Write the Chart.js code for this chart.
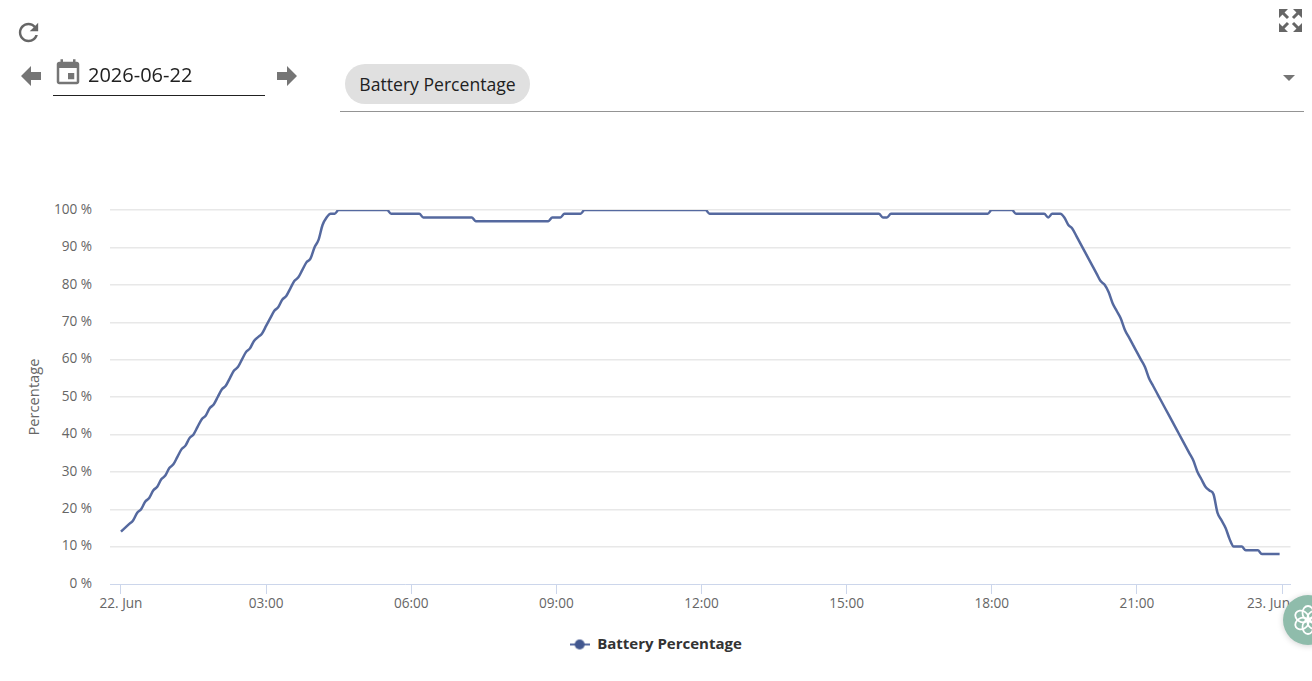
<!DOCTYPE html>
<html>
<head>
<meta charset="utf-8">
<title>Battery Percentage</title>
<script src="https://cdn.jsdelivr.net/npm/chart.js@4"></script>
<style>
html,body{margin:0;padding:0;background:#fff;width:1312px;height:681px;overflow:hidden;font-family:"Open Sans",sans-serif}
#chart{position:absolute;left:0;top:0}
.abs{position:absolute}
#date{left:88px;top:61px;font-size:20px;line-height:28px;color:#212121}
#dateline{left:53px;top:95px;width:212px;height:1px;background:#212121}
#chip{left:345px;top:64px;width:185px;height:40px;border-radius:20px;background:#e0e0e0;color:#212121;font-size:17.6px;line-height:41px;text-align:center}
#selline{left:340px;top:111px;width:964px;height:1px;background:#949494}
#chat{left:1283px;top:595px;width:50px;height:50px;border-radius:25px;background:#8fbcab;box-shadow:0 1px 6px rgba(0,0,0,.18)}
</style>
</head>
<body>
<canvas id="chart" width="1312" height="681"></canvas>

<svg class="abs" style="left:14px;top:18px" width="29" height="29" viewBox="0 0 24 24"><path fill="#666" d="M17.65 6.35C16.2 4.9 14.21 4 12 4c-4.42 0-7.99 3.58-7.99 8s3.57 8 7.99 8c3.73 0 6.84-2.55 7.73-6h-2.08c-.82 2.33-3.04 4-5.65 4-3.31 0-6-2.69-6-6s2.69-6 6-6c1.66 0 3.14.69 4.22 1.78L13 11h7V4l-2.35 2.35z"/></svg>
<svg class="abs" style="left:21px;top:66px" width="20" height="20" viewBox="0 0 20 20"><path fill="#757575" d="M0 10 L10 0 V6 H20 V14 H10 V20 Z"/></svg>
<svg class="abs" style="left:277px;top:66px" width="20" height="20" viewBox="0 0 20 20"><path fill="#757575" d="M20 10 L10 0 V6 H0 V14 H10 V20 Z"/></svg>
<svg class="abs" style="left:53px;top:58px" width="30" height="30" viewBox="0 0 24 24"><path fill="#757575" d="M17 12h-5v5h5v-5zM16 1v2H8V1H6v2H5c-1.11 0-1.99.9-1.99 2L3 19c0 1.1.89 2 2 2h14c1.1 0 2-.9 2-2V5c0-1.1-.9-2-2-2h-1V1h-2zm3 18H5V8h14v11z"/></svg>
<div class="abs" id="date">2026-06-22</div>
<div class="abs" id="dateline"></div>
<div class="abs" id="chip">Battery Percentage</div>
<div class="abs" id="selline"></div>
<svg class="abs" style="left:1283px;top:75px" width="12" height="6" viewBox="0 0 12 6"><path fill="#757575" d="M0 0H12L6 6Z"/></svg>
<svg class="abs" style="left:1279px;top:9px" width="23" height="23" viewBox="0 0 23 23">
  <g fill="#666" stroke="#666">
    <path stroke="none" d="M0 0H9L0 9Z M23 0V9L14 0Z M0 23V14L9 23Z M23 23H14L23 14Z"/>
    <path fill="none" stroke-width="3" d="M3 3L9 9 M20 3L14 9 M3 20L9 14 M20 20L14 14"/>
  </g>
</svg>
<div class="abs" id="chat">
  <svg class="abs" style="left:9px;top:9px" width="32" height="32" viewBox="0 0 32 32">
    <g fill="none" stroke="#fff" stroke-width="1.8">
      <ellipse cx="16" cy="9" rx="5.5" ry="7"/>
      <ellipse cx="16" cy="9" rx="5.5" ry="7" transform="rotate(60 16 16)"/>
      <ellipse cx="16" cy="9" rx="5.5" ry="7" transform="rotate(120 16 16)"/>
      <ellipse cx="16" cy="9" rx="5.5" ry="7" transform="rotate(180 16 16)"/>
      <ellipse cx="16" cy="9" rx="5.5" ry="7" transform="rotate(240 16 16)"/>
      <ellipse cx="16" cy="9" rx="5.5" ry="7" transform="rotate(300 16 16)"/>
    </g>
  </svg>
</div>

<script>
const seriesName = "Battery Percentage";
const yTitle = "Percentage";

const minutes = [
0,5,10,15,20,25,30,35,40,45,50,55,60,65,70,75,80,85,90,95,100,105,110,115,120,125,130,135,140,145,150,155,160,165,170,175,
180,185,190,195,200,205,210,215,220,225,230,235,240,245,250,255,260,265,270,275,280,285,290,295,300,305,310,315,320,325,330,335,340,345,350,355,
360,365,370,375,380,385,390,395,400,405,410,415,420,425,430,435,440,445,450,455,460,465,470,475,480,485,490,495,500,505,510,515,520,525,530,535,
540,545,550,555,560,565,570,575,580,585,590,595,600,605,610,615,620,625,630,635,640,645,650,655,660,665,670,675,680,685,690,695,700,705,710,715,
720,725,730,735,740,745,750,755,760,765,770,775,780,785,790,795,800,805,810,815,820,825,830,835,840,845,850,855,860,865,870,875,880,885,890,895,
900,905,910,915,920,925,930,935,940,945,950,955,960,965,970,975,980,985,990,995,1000,1005,1010,1015,1020,1025,1030,1035,1040,1045,1050,1055,1060,1065,1070,1075,
1080,1085,1090,1095,1100,1105,1110,1115,1120,1125,1130,1135,1140,1145,1150,1155,1160,1165,1170,1175,1180,1185,1190,1195,1200,1205,1210,1215,1220,1225,1230,1235,1240,1245,1250,1255,
1260,1265,1270,1275,1280,1285,1290,1295,1300,1305,1310,1315,1320,1325,1330,1335,1340,1345,1350,1355,1360,1365,1370,1375,1380,1385,1390,1395,1400,1405,1410,1415,1420,1425,1430,1437
];

const batteryPercent = [
14,15,16,17,19,20,22,23,25,26,
28,29,31,32,34,36,37,39,40,42,
44,45,47,48,50,52,53,55,57,58,
60,62,63,65,66,67,69,71,73,74,
76,77,79,81,82,84,86,87,90,92,
96,98,99,99,100,100,100,100,100,100,
100,100,100,100,100,100,100,99,99,99,
99,99,99,99,99,98,98,98,98,98,
98,98,98,98,98,98,98,98,97,97,
97,97,97,97,97,97,97,97,97,97,
97,97,97,97,97,97,97,98,98,98,
99,99,99,99,99,100,100,100,100,100,
100,100,100,100,100,100,100,100,100,100,
100,100,100,100,100,100,100,100,100,100,
100,100,100,100,100,100,99,99,99,99,
99,99,99,99,99,99,99,99,99,99,
99,99,99,99,99,99,99,99,99,99,
99,99,99,99,99,99,99,99,99,99,
99,99,99,99,99,99,99,99,99,98,
98,99,99,99,99,99,99,99,99,99,
99,99,99,99,99,99,99,99,99,99,
99,99,99,99,99,99,100,100,100,100,
100,100,99,99,99,99,99,99,99,99,
98,99,99,99,98,96,95,93,91,89,
87,85,83,81,80,78,75,73,71,68,
66,64,62,60,58,55,53,51,49,47,
45,43,41,39,37,35,33,30,28,26,
25,24,19,17,15,12,10,10,10,9,
9,9,9,8,8,8,8,8
];

const xTickValues = [0,180,360,540,720,900,1080,1260,1440];
const xTickLabels = ["22. Jun","03:00","06:00","09:00","12:00","15:00","18:00","21:00","23. Jun"];
const yTickValues = [0,10,20,30,40,50,60,70,80,90,100];

const lineColor = "#55699f";
const markerColor = "#42578f";
const fontFamily = '"Open Sans", sans-serif';

// opaque canvas so that text gets the same subpixel rendering as the page
document.getElementById("chart").getContext("2d", { alpha: false });

// legend symbol: short line with a round marker
const legendSymbol = document.createElement("canvas");
legendSymbol.width = 20; legendSymbol.height = 12;
(function(){
  const c = legendSymbol.getContext("2d");
  c.strokeStyle = lineColor; c.lineWidth = 2;
  c.beginPath(); c.moveTo(0,6); c.lineTo(20,6); c.stroke();
  c.fillStyle = markerColor;
  c.beginPath(); c.arc(10,6,5,0,Math.PI*2); c.fill();
})();

const lastLabelInside = {
  id: "lastLabelInside",
  beforeDraw(chart){
    const items = chart.scales.x.getLabelItems();
    const last = items[items.length-1];
    if (last && !last._moved){
      last.options.translation[0] -= 13.5;
      last._moved = true;
    }
  }
};

const legendNudge = {
  id: "legendNudge",
  afterLayout(chart){
    chart.legend.left -= 2.5;
    chart.legend.right -= 2.5;
  }
};

const whiteBackground = {
  id: "whiteBackground",
  beforeDraw(chart){
    const c = chart.ctx;
    c.save(); c.fillStyle = "#ffffff"; c.fillRect(0,0,chart.width,chart.height); c.restore();
  }
};

new Chart(document.getElementById("chart"), {
  type: "line",
  plugins: [whiteBackground, lastLabelInside, legendNudge],
  data: {
    datasets: [{
      label: seriesName,
      data: minutes.map((m,i)=>({x:m,y:batteryPercent[i]})),
      borderColor: lineColor,
      backgroundColor: markerColor,
      borderWidth: 2.5,
      pointRadius: 0,
      cubicInterpolationMode: "monotone",
      fill: false
    }]
  },
  options: {
    responsive: false,
    animation: false,
    devicePixelRatio: 1,
    layout: { padding: { left: 26, top: 210, right: 21.5, bottom: 19 } },
    plugins: {
      tooltip: { enabled: false },
      legend: {
        position: "bottom",
        labels: {
          usePointStyle: true,
          pointStyle: legendSymbol,
          pointStyleWidth: 20,
          padding: 10,
          color: "#333333",
          font: { family: fontFamily, size: 15, weight: "700" }
        }
      }
    },
    scales: {
      x: {
        type: "linear",
        min: -13.6,
        max: 1450.5,
        afterFit(s){ s.height = 43; },
        afterBuildTicks(s){ s.ticks = xTickValues.map(v=>({value:v})); },
        border: { color: "#ccd6eb", width: 1 },
        grid: { drawOnChartArea: false, drawTicks: true, tickLength: 10, tickColor: "#ccd6eb" },
        ticks: {
          autoSkip: false, maxRotation: 0, color: "#666666", padding: 2,
          font: { family: fontFamily, size: 13.6 },
          callback(v){ return xTickLabels[xTickValues.indexOf(v)]; }
        }
      },
      y: {
        min: 0,
        max: 100,
        afterFit(s){ s.width = 84; },
        afterBuildTicks(s){ s.ticks = yTickValues.map(v=>({value:v})); },
        border: { display: false },
        grid: {
          drawTicks: false,
          lineWidth: 1.4,
          color(ctx){ return ctx.tick && ctx.tick.value === 0 ? "rgba(0,0,0,0)" : "#e8e8e8"; }
        },
        ticks: {
          color: "#666666", padding: 18,
          font: { family: fontFamily, size: 13.6 },
          callback(v){ return v + " %"; }
        },
        title: {
          display: true, text: yTitle, color: "#666666", padding: 0,
          font: { family: fontFamily, size: 14.7 }
        }
      }
    }
  }
});
</script>
</body>
</html>
